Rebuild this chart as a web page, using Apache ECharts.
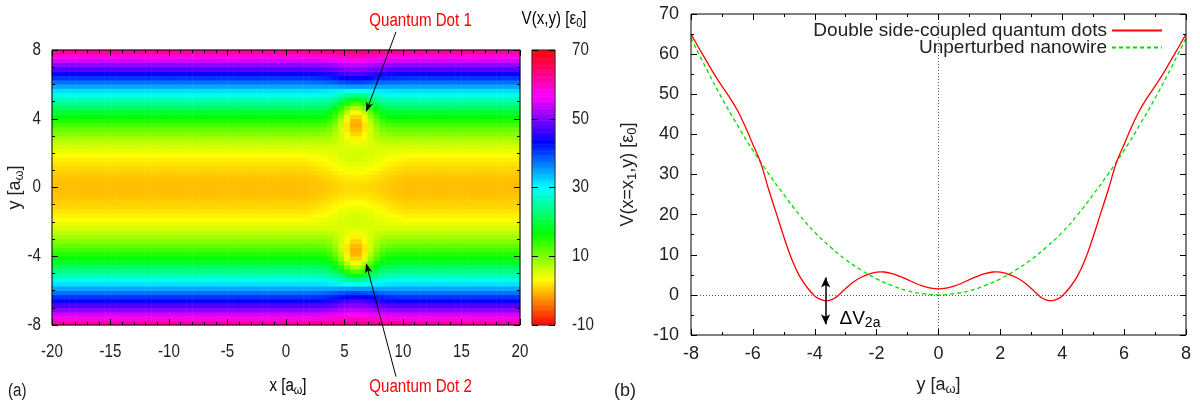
<!DOCTYPE html>
<html><head><meta charset="utf-8">
<script src="https://cdn.jsdelivr.net/npm/echarts@6/dist/echarts.min.js"></script>
<style>html,body{margin:0;padding:0;background:#fff}#c{width:1200px;height:401px}</style>
</head><body><div id="c"></div>
<script>
// ---------------- DATA ----------------
// Panel (a): heatmap sampling grid (cell centres)
const heatStepX = 0.5, heatStepY = 0.25;
const heatX = []; for (let i = 0; i < 80; i++) heatX.push(-19.75 + heatStepX * i);
const heatY = []; for (let j = 0; j < 64; j++) heatY.push(-7.875 + heatStepY * j);

// Far-field profile V(y) (upper half, y = 0.125 ... 7.875), picture is symmetric in y
const baselineUpper = [0.0,0.1,0.4,0.8,1.3,1.9,2.6,3.5,4.5,5.6,6.9,8.3,9.8,11.4,13.1,15.0,
  17.0,19.1,21.4,23.8,26.3,28.9,31.6,34.5,37.5,40.6,43.9,47.3,50.8,54.4,58.1,62.0];

// Columns near the quantum dots (x = 2.25 ... 9.75)
const dotColumnsX = [2.25,2.75,3.25,3.75,4.25,4.75,5.25,5.75,6.25,6.75,7.25,7.75,8.25,8.75,9.25,9.75];
// Values in those columns, rows y = 0.125 ... 7.875 (upper half)
const dotRowsUpper = [
 [0.2,0.3,0.5,0.7,1.0,1.2,1.4,1.5,1.5,1.4,1.2,1.0,0.7,0.5,0.3,0.2],
 [0.3,0.5,0.7,1.0,1.3,1.6,1.8,1.9,1.9,1.8,1.6,1.3,1.0,0.7,0.5,0.3],
 [0.6,0.8,1.1,1.4,1.7,2.1,2.4,2.5,2.5,2.4,2.1,1.7,1.4,1.1,0.8,0.6],
 [1.1,1.3,1.6,2.0,2.4,2.8,3.2,3.3,3.3,3.2,2.8,2.4,2.0,1.6,1.3,1.1],
 [1.6,1.9,2.2,2.6,3.1,3.6,3.9,4.1,4.1,3.9,3.6,3.1,2.6,2.2,1.9,1.6],
 [2.2,2.5,2.8,3.3,3.8,4.3,4.7,4.9,4.9,4.7,4.3,3.8,3.3,2.8,2.5,2.2],
 [3.0,3.2,3.5,4.0,4.4,4.9,5.3,5.5,5.5,5.3,4.9,4.4,4.0,3.5,3.2,3.0],
 [3.8,4.0,4.2,4.5,4.9,5.3,5.5,5.7,5.7,5.5,5.3,4.9,4.5,4.2,4.0,3.8],
 [4.6,4.7,4.8,5.0,5.1,5.3,5.4,5.5,5.5,5.4,5.3,5.1,5.0,4.8,4.7,4.6],
 [5.6,5.6,5.5,5.4,5.3,5.2,5.0,4.9,4.9,5.0,5.2,5.3,5.4,5.5,5.6,5.6],
 [6.9,6.9,6.8,6.6,6.1,5.4,4.6,4.0,4.0,4.6,5.4,6.1,6.6,6.8,6.9,6.9],
 [8.3,8.2,8.1,7.7,6.8,5.5,3.9,2.7,2.7,3.9,5.5,6.8,7.7,8.1,8.2,8.3],
 [9.8,9.7,9.5,8.9,7.6,5.5,3.0,1.2,1.2,3.0,5.5,7.6,8.9,9.5,9.7,9.8],
 [11.4,11.3,11.0,10.2,8.4,5.6,2.3,-0.1,-0.1,2.3,5.6,8.4,10.2,11.0,11.3,11.4],
 [13.1,13.0,12.7,11.7,9.5,6.0,2.0,-0.9,-0.9,2.0,6.0,9.5,11.7,12.7,13.0,13.1],
 [15.0,14.9,14.5,13.4,11.0,7.2,2.7,-0.5,-0.5,2.7,7.2,11.0,13.4,14.5,14.9,15.0],
 [17.0,16.9,16.5,15.4,12.9,9.0,4.4,1.1,1.1,4.4,9.0,12.9,15.4,16.5,16.9,17.0],
 [19.1,19.0,18.7,17.6,15.2,11.4,7.0,3.9,3.9,7.0,11.4,15.2,17.6,18.7,19.0,19.1],
 [21.4,21.2,21.0,20.0,17.8,14.4,10.5,7.6,7.6,10.5,14.4,17.8,20.0,21.0,21.2,21.4],
 [23.8,23.6,23.4,22.6,20.8,18.0,14.7,12.3,12.3,14.7,18.0,20.8,22.6,23.4,23.6,23.8],
 [26.3,26.2,26.0,25.4,24.1,22.0,19.5,17.7,17.7,19.5,22.0,24.1,25.4,26.0,26.2,26.3],
 [28.9,28.8,28.7,28.4,27.5,26.2,24.7,23.6,23.6,24.7,26.2,27.5,28.4,28.7,28.8,28.9],
 [31.6,31.5,31.4,31.1,30.8,30.4,30.0,29.8,29.8,30.0,30.4,30.8,31.1,31.4,31.5,31.6],
 [34.5,34.6,34.6,34.7,34.8,35.0,35.1,35.2,35.2,35.1,35.0,34.8,34.7,34.6,34.6,34.5],
 [37.6,37.7,37.9,38.2,38.6,39.1,39.5,39.8,39.8,39.5,39.1,38.6,38.2,37.9,37.7,37.6],
 [40.7,40.9,41.1,41.6,42.2,42.9,43.6,44.0,44.0,43.6,42.9,42.2,41.6,41.1,40.9,40.7],
 [44.0,44.2,44.4,44.9,45.6,46.4,47.1,47.5,47.5,47.1,46.4,45.6,44.9,44.4,44.2,44.0],
 [47.4,47.5,47.8,48.2,48.8,49.5,50.1,50.5,50.5,50.1,49.5,48.8,48.2,47.8,47.5,47.4],
 [50.9,51.0,51.2,51.5,52.0,52.6,53.1,53.4,53.4,53.1,52.6,52.0,51.5,51.2,51.0,50.9],
 [54.5,54.5,54.7,55.0,55.4,55.9,56.3,56.6,56.6,56.3,55.9,55.4,55.0,54.7,54.5,54.5],
 [58.2,58.3,58.4,58.6,59.0,59.4,59.7,59.9,59.9,59.7,59.4,59.0,58.6,58.4,58.3,58.2],
 [62.1,62.1,62.2,62.4,62.6,62.9,63.2,63.3,63.3,63.2,62.9,62.6,62.4,62.2,62.1,62.1]
];

// Colour bar
const cbMin = -10, cbMax = 70;
const cbTicks = [-10, 10, 30, 50, 70];
const cbCells = []; for (let k = 0; k < 160; k++) cbCells.push(-9.75 + 0.5 * k);
const palette = ['#ff0000','#ffff00','#00ff00','#00ffff','#0000ff','#ff00ff','#ff0000'];

// Panel (a) ticks
const aXTicks = [-20,-15,-10,-5,0,5,10,15,20];
const aYTicks = [-8,-4,0,4,8];

// Annotations (data coordinates of panel a)
const dotLabels = [
  {text: 'Quantum Dot 1', at: [11.5, 9.7], from: [9.4, 9.05], to: [6.84, 4.39]},
  {text: 'Quantum Dot 2', at: [11.5, -11.6], from: [9.4, -11.0], to: [6.84, -4.39]}
];

// Panel (b): line cut V(x = x1, y)
const redY = [-8,-7.75,-7.5,-7.25,-7,-6.75,-6.5,-6.25,-6,-5.75,-5.5,-5.25,-5,-4.75,-4.5,-4.25,-4,-3.875,
  -3.75,-3.625,-3.5,-3.375,-3.25,-3,-2.75,-2.5,-2.25,-2,-1.875,-1.75,-1.5,-1.25,-1,-0.75,-0.5,-0.25,0,
  0.25,0.5,0.75,1,1.25,1.5,1.75,1.875,2,2.25,2.5,2.75,3,3.25,3.375,3.5,3.625,3.75,3.875,4,
  4.25,4.5,4.75,5,5.25,5.5,5.75,6,6.25,6.5,6.75,7,7.25,7.5,7.75,8];
const redV = [65,61.6,58.3,55,52,49.2,46,42,37.5,33,26.5,20.5,14.5,9.0,4.8,1.9,-0.3,-0.95,
  -1.3,-1.45,-1.3,-0.9,-0.2,1.6,3.2,4.4,5.2,5.65,5.75,5.7,5.3,4.6,3.8,2.9,2.2,1.7,1.5,
  1.7,2.2,2.9,3.8,4.6,5.3,5.7,5.75,5.65,5.2,4.4,3.2,1.6,-0.2,-0.9,-1.3,-1.45,-1.3,-0.95,-0.3,
  1.9,4.8,9.0,14.5,20.5,26.5,33,37.5,42,46,49.2,52,55,58.3,61.6,65];
const greenY = [-8,-7.5,-7,-6.5,-6,-5.5,-5,-4.5,-4,-3.5,-3,-2.5,-2,-1.5,-1,-0.5,0,
  0.5,1,1.5,2,2.5,3,3.5,4,4.5,5,5.5,6,6.5,7,7.5,8];
const greenV = [64,56.3,49,42.3,36,30.3,25,20,15.6,12,8.8,6.2,4,2.3,1,0.3,0,
  0.3,1,2.3,4,6.2,8.8,12,15.6,20,25,30.3,36,42.3,49,56.3,64];
const seriesNames = ['Double side-coupled quantum dots', 'Unperturbed nanowire'];
const deltaArrow = {x: -3.65, y1: -7.3, y2: 4.3, labelAt: [-3.2, -6.0]};

// ---------------- BUILD ----------------
const heatData = [];
for (let i = 0; i < heatX.length; i++) {
  const c = dotColumnsX.indexOf(heatX[i]);
  for (let j = 0; j < heatY.length; j++) {
    const u = j >= 32 ? j - 32 : 31 - j;
    const v = c >= 0 ? dotRowsUpper[u][c] : baselineUpper[u];
    heatData.push([i, j, v]);
  }
}
const cbData = cbCells.map((v, k) => [0, k, v]);
const redData = redY.map((y, k) => [y, redV[k]]);
const greenData = greenY.map((y, k) => [y, greenV[k]]);

const FONT = "'Liberation Sans', Arial, Helvetica, sans-serif";
const TXT = '#222';
const SQ = 0.84; // panel (a) lettering is horizontally squeezed

function richSub(size) {
  return {
    n: {fontFamily: FONT, fontSize: size, color: TXT, lineHeight: size + 4, verticalAlign: 'middle'},
    s: {fontFamily: FONT, fontSize: Math.round(size * 0.72), color: TXT, lineHeight: Math.round(size * 0.72), verticalAlign: 'bottom'}
  };
}

function valAxis(grid, pos, min, max, interval, split, labels, margin) {
  return {
    gridIndex: grid, type: 'value', position: pos, min: min, max: max, interval: interval, z: 10,
    axisLine: {show: false, onZero: false},
    axisTick: {show: true, inside: true, length: 6, lineStyle: {color: '#000', width: 1}},
    minorTick: {show: split > 1, splitNumber: split, length: 3, lineStyle: {color: '#000', width: 1}},
    splitLine: {show: false},
    axisLabel: {show: labels, fontFamily: FONT, fontSize: 18, color: TXT, margin: margin}
  };
}

const chart = echarts.init(document.getElementById('c'), null, {renderer: 'canvas'});

const xA = [
  {gridIndex: 0, type: 'category', data: heatX, show: false},
  valAxis(0, 'bottom', -20, 20, 5, 5, false, 18),
  valAxis(0, 'top', -20, 20, 5, 5, false, 8),
  {gridIndex: 1, type: 'category', data: ['cb'], show: false},
  Object.assign(valAxis(2, 'bottom', -8, 8, 2, 2, true, 10), {
    name: '{n|y [a}{s|ω}{n|]}', nameLocation: 'middle', nameGap: 39,
    nameTextStyle: {rich: richSub(18)}}),
  valAxis(2, 'top', -8, 8, 2, 2, false, 8)
];
const yA = [
  {gridIndex: 0, type: 'category', data: heatY, show: false},
  Object.assign(valAxis(0, 'left', -8, 8, 4, 4, false, 11), {
    name: '{n|y [a}{s|ω}{n|]}', nameLocation: 'middle', nameGap: 26,
    nameTextStyle: {rich: richSub(18)}}),
  valAxis(0, 'right', -8, 8, 4, 4, false, 8),
  {gridIndex: 1, type: 'category', data: cbCells, show: false},
  valAxis(1, 'right', cbMin, cbMax, 20, 1, false, 17),
  valAxis(1, 'left', cbMin, cbMax, 20, 1, false, 8),
  Object.assign(valAxis(2, 'left', -10, 70, 10, 2, true, 12), {
    name: '{n|V(x=x}{s|1}{n|,y) [ε}{s|0}{n|]}', nameLocation: 'middle', nameGap: 52,
    nameTextStyle: {rich: richSub(18)}}),
  valAxis(2, 'right', -10, 70, 10, 2, false, 8)
];

const option = {
  animation: false,
  backgroundColor: '#fff',
  grid: [
    {left: 52, top: 50, width: 468, height: 275, show: true, z: 5, borderColor: '#000', borderWidth: 1, backgroundColor: 'transparent'},
    {left: 532, top: 50, width: 23, height: 275, show: true, z: 5, borderColor: '#333', borderWidth: 1, backgroundColor: 'transparent'},
    {left: 691, top: 14, width: 495, height: 329, show: true, z: 5, borderColor: '#000', borderWidth: 1, backgroundColor: 'transparent'}
  ],
  xAxis: xA,
  yAxis: yA,
  visualMap: {type: 'continuous', show: false, min: cbMin, max: cbMax, seriesIndex: [0, 1], dimension: 2,
    inRange: {color: palette}},
  legend: {
    data: seriesNames, orient: 'vertical', right: 32, top: 16, align: 'right',
    itemWidth: 50, itemHeight: 12, itemGap: -2,
    itemStyle: {opacity: 0},
    textStyle: {fontFamily: FONT, fontSize: 19, color: TXT}
  },
  series: [
    {type: 'heatmap', xAxisIndex: 0, yAxisIndex: 0, data: heatData, progressive: 0, silent: true, emphasis: {disabled: true}},
    {type: 'heatmap', xAxisIndex: 3, yAxisIndex: 3, data: cbData, progressive: 0, silent: true, emphasis: {disabled: true}},
    {type: 'line', name: seriesNames[0], xAxisIndex: 4, yAxisIndex: 6, data: redData, smooth: 0.4,
      symbol: 'none', lineStyle: {color: '#ff0000', width: 1.3}, itemStyle: {color: '#ff0000'}, z: 4,
      markLine: {silent: true, symbol: 'none', label: {show: false}, animation: false,
        lineStyle: {type: [1, 2], color: '#555', width: 1},
        data: [{yAxis: 0}, {xAxis: 0}]}},
    {type: 'line', name: seriesNames[1], xAxisIndex: 4, yAxisIndex: 6, data: greenData, smooth: true,
      symbol: 'none', lineStyle: {color: '#00dd00', width: 1.3, type: [4, 3]}, itemStyle: {color: '#00dd00'}, z: 3,
      markLine: {silent: true, symbol: ['arrow', 'arrow'], symbolSize: [7, 10], label: {show: false}, animation: false,
        lineStyle: {type: 'solid', color: '#000', width: 1.5},
        data: [[{coord: [deltaArrow.x, deltaArrow.y1]}, {coord: [deltaArrow.x, deltaArrow.y2]}]]}}
  ]
};
chart.setOption(option);

// ---------- annotations / squeezed lettering placed through the axes ----------
const aFinder = {xAxisIndex: 1, yAxisIndex: 1};
const bFinder = {xAxisIndex: 4, yAxisIndex: 6};
const gfx = [];
function sqText(px, py, text, align, fill, rich) {
  const st = {text: text, align: align, verticalAlign: 'middle'};
  if (rich) st.rich = rich; else { st.font = '18px ' + FONT; st.fill = fill || TXT; }
  gfx.push({type: 'text', z: 20, x: px, y: py, scaleX: SQ, scaleY: 1, style: st});
}
function arrow(p0, p1) {
  const dx = p1[0] - p0[0], dy = p1[1] - p0[1], L = Math.hypot(dx, dy);
  const ux = dx / L, uy = dy / L, hl = 10, hw = 3.5;
  const bx = p1[0] - ux * hl, by = p1[1] - uy * hl;
  gfx.push({type: 'line', z: 20, shape: {x1: p0[0], y1: p0[1], x2: bx + ux * 3, y2: by + uy * 3}, style: {stroke: '#000', lineWidth: 1}});
  gfx.push({type: 'polygon', z: 20, shape: {points: [p1, [bx - uy * hw, by + ux * hw], [p1[0] - ux * hl * 0.75, p1[1] - uy * hl * 0.75], [bx + uy * hw, by - ux * hw]]},
    style: {fill: '#000'}});
}
// tick labels of panel (a)
aXTicks.forEach(t => { const p = chart.convertToPixel(aFinder, [t, -8]); sqText(p[0], p[1] + 27, String(t), 'center'); });
aYTicks.forEach(t => { const p = chart.convertToPixel(aFinder, [-20, t]); sqText(p[0] - 11, p[1], String(t), 'right'); });
cbTicks.forEach(t => { const py = chart.convertToPixel({yAxisIndex: 4}, t); const px = chart.convertToPixel({xAxisIndex: 1}, 20); sqText(px + 52, py, String(t), 'left'); });
// axis title x of panel (a)
{ const p = chart.convertToPixel(aFinder, [0, -8]); sqText(p[0] + 2, p[1] + 61, '{n|x [a}{s|ω}{n|]}', 'center', null, richSub(18)); }
dotLabels.forEach(d => {
  const t = chart.convertToPixel(aFinder, d.at);
  sqText(t[0], t[1], d.text, 'center', '#ff0000');
  arrow(chart.convertToPixel(aFinder, d.from), chart.convertToPixel(aFinder, d.to));
});
const dl = chart.convertToPixel(bFinder, deltaArrow.labelAt);
gfx.push({type: 'text', z: 20, x: dl[0], y: dl[1], style: {text: '{n|ΔV}{s|2a}', rich: richSub(19), align: 'left', verticalAlign: 'middle'}});
// colour bar title above the bar
const cbTop = chart.convertToPixel({yAxisIndex: 4}, cbMax);
sqText(554, cbTop - 31, '{n|V(x,y) [ε}{s|0}{n|]}', 'center', null, richSub(18));
sqText(8, 391, '(a)', 'left');
gfx.push({type: 'text', z: 20, x: 614, y: 391, style: {text: '(b)', font: '18px ' + FONT, fill: TXT, align: 'left', verticalAlign: 'middle'}});
chart.setOption({graphic: gfx});
</script></body></html>
